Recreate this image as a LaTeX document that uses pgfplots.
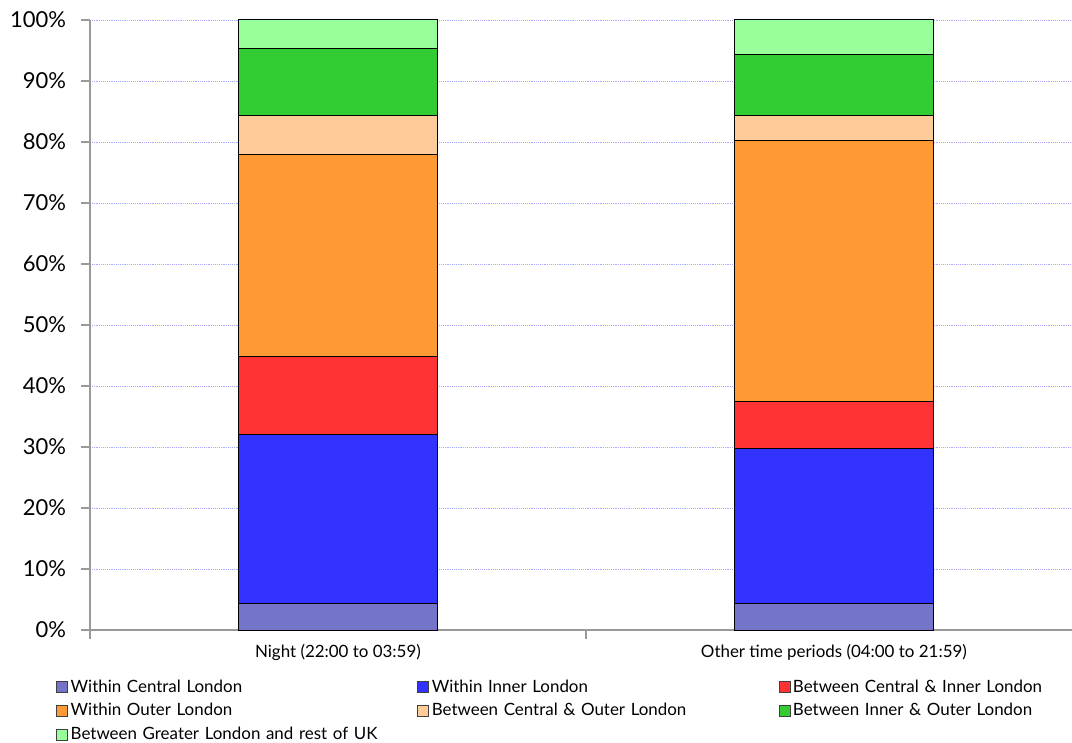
\documentclass[border=0pt]{standalone}
\usepackage{pgfplots}
\pgfplotsset{compat=1.18}
\usepackage{fontspec}
\setmainfont{Lato}
\definecolor{cCen}{HTML}{7474C8}
\definecolor{cInn}{HTML}{3333FF}
\definecolor{cCI}{HTML}{FF3333}
\definecolor{cOut}{HTML}{FF9933}
\definecolor{cCO}{HTML}{FFCC99}
\definecolor{cIO}{HTML}{33CC33}
\definecolor{cUK}{HTML}{99FF99}
\definecolor{gridc}{HTML}{A8A8FF}
\definecolor{axc}{HTML}{9A9A9A}
\begin{document}
\begin{tikzpicture}
\begin{axis}[
  scale only axis,
  width=736.5pt, height=457.5pt,
  ybar stacked,
  bar width=149.25pt,
  xmin=-0.5, xmax=1.48,
  ymin=0, ymax=100,
  axis x line=bottom, axis y line=left,
  axis line style={-, draw=axc, line width=0.9pt},
  xtick={-0.5,0.5,1.5},
  xticklabels={},
  extra x ticks={0,1},
  extra x tick labels={Night (22:00 to 03:59),Other time periods (04:00 to 21:59)},
  extra x tick style={major tick length=0pt, grid=none, tick label style={font=\fontsize{12.7pt}{14pt}\selectfont, yshift=-7.5pt}},
  ytick={0,10,...,100},
  yticklabel={\pgfmathprintnumber{\tick}\%},
  /pgf/number format/assume math mode=true,
  y tick label style={font=\fontsize{16.5pt}{18pt}\selectfont, xshift=-8pt},
  tick align=outside,
  major tick length=6.5pt,
  tick style={draw=axc, line width=0.9pt},
  ymajorgrids,
  major grid style={draw=gridc, densely dotted, line width=0.6pt},
  clip=false,
  legend columns=3,
  legend cell align=left,
  legend style={at={(-0.0387,-0.0695)}, anchor=north west, draw=none, fill=none,
    font=\fontsize{12.7pt}{14pt}\selectfont,
    nodes={text width=258pt, text height=10pt, text depth=3pt, inner ysep=2.5pt, inner xsep=2pt},
    /tikz/every odd column/.style={column sep=0pt}},
  legend image code/.code={\draw[#1, draw=black!75, line width=0.6pt] (0pt,-4pt) rectangle (8.25pt,4.25pt);},
  every axis plot/.append style={draw=black, line width=0.75pt},
]
\addplot[fill=cCen] coordinates {(0,4.4) (1,4.4)};
\addplot[fill=cInn] coordinates {(0,27.7) (1,25.4)};
\addplot[fill=cCI] coordinates {(0,12.8) (1,7.7)};
\addplot[fill=cOut] coordinates {(0,33.0) (1,42.7)};
\addplot[fill=cCO] coordinates {(0,6.4) (1,4.2)};
\addplot[fill=cIO] coordinates {(0,11.1) (1,9.9)};
\addplot[fill=cUK] coordinates {(0,4.6) (1,5.7)};
\legend{Within Central London,Within Inner London,Between Central \& Inner London,Within Outer London,Between Central \& Outer London,Between Inner \& Outer London,Between Greater London and rest of UK}
\end{axis}
\pgfresetboundingbox
\path (current axis.south west) ++(-67.5pt,-84.75pt) rectangle ++(804pt,557.25pt);
\end{tikzpicture}
\end{document}
